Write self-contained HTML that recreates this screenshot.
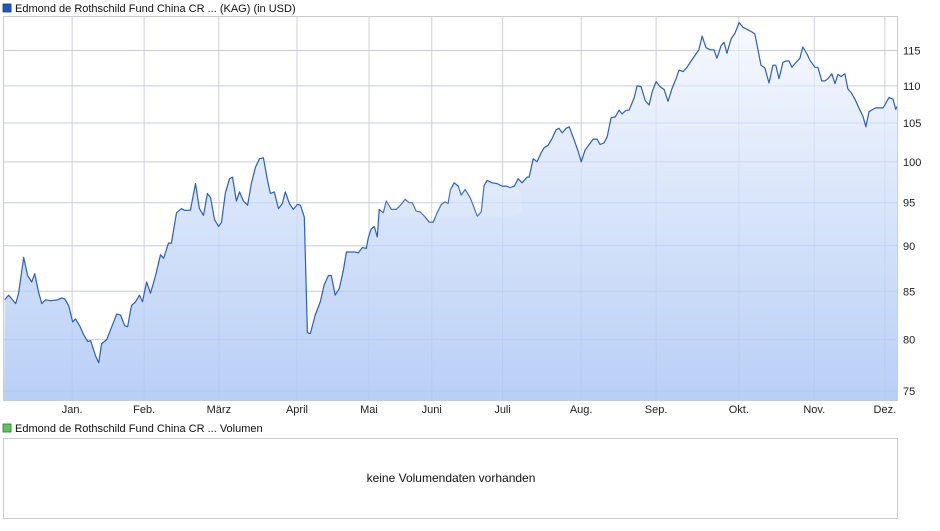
<!DOCTYPE html>
<html><head><meta charset="utf-8"><style>
body{margin:0;background:#fff;font-family:"Liberation Sans",sans-serif;}
svg text{font-family:"Liberation Sans",sans-serif;}
</style></head><body>
<svg id="c" width="940" height="526" xmlns="http://www.w3.org/2000/svg">
<defs><linearGradient id="g" x1="0" y1="0" x2="0" y2="1"><stop offset="0" stop-color="#f7f9fe"/><stop offset="1" stop-color="#b8cff6"/></linearGradient></defs>
<rect x="3" y="4" width="8" height="8" fill="#1f57c3" stroke="#123a8a" stroke-width="0.8"/>
<text x="15" y="12" font-size="11" fill="#111">Edmond de Rothschild Fund China CR ... (KAG) (in USD)</text>
<g id="grid"></g>
<g id="area"></g>
<rect x="3.5" y="16.5" width="894" height="384" fill="none" stroke="#ccc"/>
<rect x="380" y="187" width="142" height="30" rx="10" fill="#fff" fill-opacity="0.12"/>
<rect x="3" y="424" width="8" height="8" fill="#5cc65c" stroke="#2d7a2d" stroke-width="0.8"/>
<text x="15" y="432" font-size="11" fill="#111">Edmond de Rothschild Fund China CR ... Volumen</text>
<rect x="3.5" y="438.5" width="894" height="80" fill="#fff" stroke="#ccc"/>
<text x="451" y="482" font-size="12" fill="#111" text-anchor="middle">keine Volumendaten vorhanden</text>
</svg>
<script>
const days=[-27.7,-26.1,-23.2,-22.0,-19.9,-18.3,-16.6,-15.4,-13.8,-12.5,-10.9,-8.8,-6.0,-4.3,-3.1,-1.4,0.2,1.4,3.1,4.7,6.4,7.6,9.6,10.9,12.1,14.2,15.8,18.3,19.9,21.6,22.8,24.4,26.1,27.7,28.9,30.6,32.2,34.3,36.3,37.6,39.6,40.8,42.9,44.9,46.2,47.4,48.6,50.7,52.3,54.0,55.6,56.9,58.5,60.2,61.4,63.0,64.7,65.9,67.5,68.8,70.4,72.1,73.7,75.3,77.0,78.6,80.3,81.5,83.1,84.8,86.4,87.6,89.3,90.9,92.6,93.8,95.4,96.7,97.9,99.9,102.0,103.6,105.3,106.5,108.1,109.8,111.5,112.7,114.3,116.4,117.6,119.3,120.9,121.7,122.9,124.2,125.4,126.2,127.9,129.1,131.2,133.2,134.9,136.9,138.5,139.8,141.4,143.1,145.1,146.8,148.4,150.0,151.7,153.3,154.5,155.4,157.0,158.7,159.9,161.5,163.6,164.8,166.5,168.1,169.3,170.6,172.6,174.7,176.7,178.4,180.0,181.7,183.3,184.9,187.0,187.8,189.5,191.1,192.7,194.0,195.6,197.3,198.9,200.1,201.4,203.0,204.3,206.3,208.0,209.2,210.8,212.5,214.1,215.7,217.0,218.6,219.9,221.5,223.2,224.8,226.0,227.7,228.9,231.0,232.2,233.8,235.5,237.1,238.4,240.0,241.6,243.3,244.9,246.6,248.2,249.4,251.1,252.7,254.4,256.0,257.6,258.9,260.5,262.2,263.8,265.0,266.7,267.9,269.1,270.8,272.4,274.1,275.7,277.3,279.4,280.6,283.1,284.7,286.4,288.0,289.2,290.5,292.1,293.4,294.6,295.8,297.5,299.1,300.3,302.0,303.2,305.3,306.5,308.1,309.4,310.6,312.2,313.5,314.7,316.0,317.6,318.8,320.1,321.7,323.8,325.0,326.2,327.5,329.1,330.3,332.0,333.2,334.0,335.7,337.3,338.5,338.9];
const values=[84.1,84.6,83.7,84.8,88.7,86.7,86.0,86.9,84.9,83.7,84.1,84.0,84.1,84.3,84.2,83.5,81.8,82.1,81.4,80.5,79.8,79.9,78.4,77.7,79.6,80.0,81.0,82.6,82.5,81.4,81.3,83.5,83.9,84.6,83.9,86.0,84.8,86.7,89.0,88.6,90.3,90.3,93.8,94.3,94.1,94.1,94.1,97.3,94.3,93.5,96.1,95.6,93.0,92.2,92.7,96.2,97.9,98.1,95.2,96.3,95.2,94.7,97.4,99.3,100.4,100.5,97.7,96.1,96.3,94.3,94.9,96.3,94.9,94.2,94.8,94.7,93.3,80.7,80.6,82.5,83.9,85.7,86.7,86.7,84.6,85.3,87.3,89.3,89.3,89.3,89.2,89.8,89.7,90.9,91.9,92.2,91.0,94.2,93.8,95.2,94.2,94.2,94.7,95.4,95.0,95.0,94.0,93.9,93.3,92.7,92.7,93.8,94.8,95.1,94.9,96.5,97.4,97.0,95.9,96.6,95.6,94.7,93.4,93.9,97.1,97.7,97.4,97.3,97.0,97.0,96.8,97.0,97.9,97.4,98.1,98.1,100.4,100.0,101.1,101.8,102.1,103.0,104.1,104.3,103.7,104.3,104.5,102.8,101.3,100.0,101.5,102.2,102.9,102.9,102.2,102.4,103.2,105.7,105.8,106.7,106.2,106.7,106.7,108.4,110.0,109.9,108.0,107.4,109.2,110.6,109.9,109.5,107.9,109.7,111.0,112.2,112.0,112.6,113.5,114.3,115.1,117.1,115.4,115.1,115.1,113.9,115.7,116.2,114.6,116.7,117.5,119.1,118.4,118.1,117.7,117.4,112.9,112.5,110.4,112.9,112.9,111.0,113.3,113.5,113.5,112.6,113.3,113.9,115.5,114.5,113.6,112.6,112.6,110.7,110.7,111.0,111.7,110.3,111.6,111.3,111.7,109.6,109.1,108.2,106.7,105.9,104.5,106.5,106.8,107.0,107.0,107.0,107.4,108.4,108.2,106.8,107.2];
const yTicks=[75,80,85,90,95,100,105,110,115];
const monthLabels=["Jan.","Feb.","März","April","Mai","Juni","Juli","Aug.","Sep.","Okt.","Nov.","Dez."];
const monthDays=[0,29.6,60.3,92.4,122,147.8,176.9,209.2,240,274,305,334];
const dayStart=-28, dayEnd=339;
const NS="http://www.w3.org/2000/svg";
const L=4,R=897;
function xDay(d){return L+(d-dayStart)/(dayEnd-dayStart)*(R-L);}
function y(v){return 50.5+(Math.log(115)-Math.log(v))*796.6;}
function mk(t,a,p){const e=document.createElementNS(NS,t);for(const k in a)e.setAttribute(k,a[k]);p.appendChild(e);return e;}
const grid=document.getElementById('grid'),area=document.getElementById('area');
yTicks.forEach(v=>{
 const l=mk('line',{x1:3,x2:897,y1:y(v),y2:y(v),stroke:'#dadada'},grid);
 
 
 const t=mk('text',{x:903,y:y(v)+4,'font-size':11,fill:'#222'},grid);t.textContent=v;
 
 
});
monthDays.forEach((d,i)=>{
 const x=xDay(d);
 const l=mk('line',{x1:x,x2:x,y1:16,y2:401,stroke:'#dadada'},grid);
 
 
 const t=mk('text',{x:x,y:413,'font-size':11,fill:'#222','text-anchor':'middle'},grid);t.textContent=monthLabels[i];
 
 
});
let d='';values.forEach((v,i)=>{d+=(i?'L':'M')+xDay(days[i]).toFixed(1)+','+y(v).toFixed(1);});
const fill=mk('path',{d:d+'L'+R+',401L'+L+',401Z',fill:'url(#g)'},area);


yTicks.forEach(v=>{const l=mk('line',{x1:3,x2:897,y1:y(v),y2:y(v),stroke:'#9fb6e0','stroke-opacity':0.3},area);
 
 });
monthDays.forEach(dd=>{const x=xDay(dd);const l=mk('line',{x1:x,x2:x,y1:16,y2:401,stroke:'#9fb6e0','stroke-opacity':0.2},area);
 
 });
const line=mk('path',{d:d,fill:'none',stroke:'#2a5fc7','stroke-width':1.2,'stroke-linejoin':'round'},area);


</script>
</body></html>
